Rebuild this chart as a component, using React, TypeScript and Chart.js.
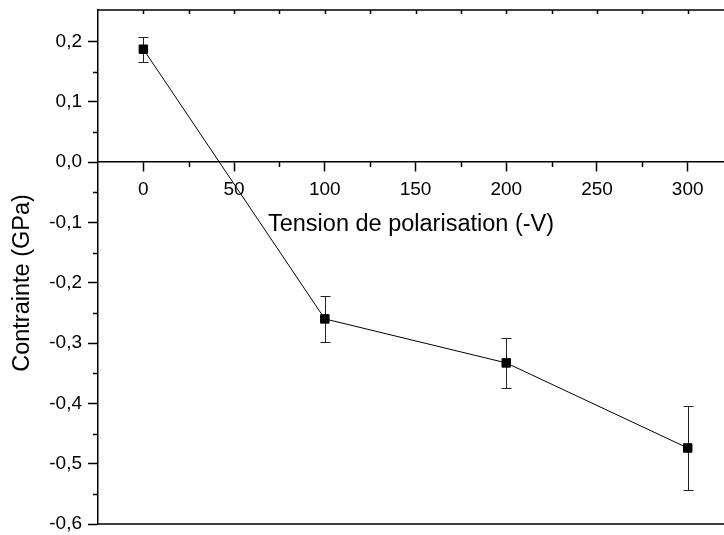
import React, { useEffect, useRef } from 'react';
import { Chart, registerables } from 'chart.js';

Chart.register(...registerables);

const voltages = [0, 100, 200, 300];
const stress = [0.187, -0.26, -0.333, -0.474];
const stressErr = [0.021, 0.038, 0.042, 0.069];

const xTicks = [0, 50, 100, 150, 200, 250, 300];
const xMinorTicks = [25, 75, 125, 175, 225, 275];
const topTicks = [0, 25, 50, 75, 100, 125, 150, 175, 200, 225, 250, 275, 300];
const yTicks = [-0.6, -0.5, -0.4, -0.3, -0.2, -0.1, 0, 0.1, 0.2];
const yMinorTicks = [-0.55, -0.45, -0.35, -0.25, -0.15, -0.05, 0.05, 0.15];

const xTitle = 'Tension de polarisation (-V)';
const yTitle = 'Contrainte (GPa)';

const FONT = "Arial, 'Liberation Sans', Helvetica, sans-serif";

const decorPlugin = {
  id: 'decor',
  beforeDatasetsDraw(chart: any) {
    const { ctx, chartArea } = chart;
    const x = chart.scales.x;
    const y = chart.scales.y;
    ctx.save();
    ctx.strokeStyle = '#000';
    ctx.lineWidth = 1.5;
    ctx.beginPath();
    ctx.moveTo(chartArea.left, chartArea.top);
    ctx.lineTo(chartArea.right, chartArea.top);
    ctx.moveTo(chartArea.left, chartArea.bottom);
    ctx.lineTo(chartArea.right, chartArea.bottom);
    ctx.stroke();

    // top ticks (inward)
    ctx.beginPath();
    topTicks.forEach((v) => {
      const px = Math.round(x.getPixelForValue(v)) + 0.5;
      ctx.moveTo(px, chartArea.top);
      ctx.lineTo(px, chartArea.top + 4);
    });
    ctx.stroke();

    // minor x ticks at y = 0
    const y0 = y.getPixelForValue(0);
    ctx.beginPath();
    xMinorTicks.forEach((v) => {
      const px = Math.round(x.getPixelForValue(v)) + 0.5;
      ctx.moveTo(px, y0);
      ctx.lineTo(px, y0 + 5);
    });
    ctx.stroke();

    // minor y ticks
    ctx.beginPath();
    yMinorTicks.forEach((v) => {
      const py = Math.round(y.getPixelForValue(v)) + 0.5;
      ctx.moveTo(chartArea.left, py);
      ctx.lineTo(chartArea.left - 5, py);
    });
    ctx.stroke();

    // error bars
    ctx.strokeStyle = '#222';
    ctx.lineWidth = 1;
    ctx.beginPath();
    voltages.forEach((v, i) => {
      const px = Math.round(x.getPixelForValue(v)) + 0.5;
      const top = Math.round(y.getPixelForValue(stress[i] + stressErr[i])) + 0.5;
      const bot = Math.round(y.getPixelForValue(stress[i] - stressErr[i])) + 0.5;
      ctx.moveTo(px, top);
      ctx.lineTo(px, bot);
      ctx.moveTo(px - 5, top);
      ctx.lineTo(px + 5, top);
      ctx.moveTo(px - 5, bot);
      ctx.lineTo(px + 5, bot);
    });
    ctx.stroke();

    // y axis title
    ctx.translate(23, 283);
    ctx.rotate(-Math.PI / 2);
    ctx.fillStyle = '#000';
    ctx.font = `23.5px ${FONT}`;
    ctx.textAlign = 'center';
    ctx.textBaseline = 'middle';
    ctx.fillText(yTitle, 0, 0);
    ctx.restore();
  },
};

export default function App() {
  const canvasRef = useRef<HTMLCanvasElement | null>(null);

  useEffect(() => {
    if (!canvasRef.current) return;
    const chart = new Chart(canvasRef.current, {
      type: 'scatter',
      data: {
        datasets: [
          {
            data: voltages.map((v, i) => ({ x: v, y: stress[i] })),
            showLine: true,
            borderColor: '#000',
            borderWidth: 1,
            backgroundColor: '#000',
            pointStyle: 'rect',
            pointRadius: 6,
            pointBorderWidth: 1,
            pointBackgroundColor: '#000',
            pointBorderColor: '#000',
            tension: 0,
            clip: false,
          } as any,
        ],
      },
      options: {
        animation: false,
        responsive: true,
        maintainAspectRatio: false,
        layout: { autoPadding: false, padding: { top: 10, bottom: 11, left: 0, right: 0 } },
        plugins: {
          legend: { display: false },
          tooltip: { enabled: false },
        },
        scales: {
          x: {
            type: 'linear',
            min: -25,
            max: 320,
            position: { y: 0 } as any,
            afterBuildTicks: (scale: any) => {
              scale.ticks = xTicks.map((v) => ({ value: v }));
            },
            afterFit: (scale: any) => {
              scale.paddingLeft = 0;
              scale.paddingRight = 0;
              scale.paddingTop = 0;
              scale.paddingBottom = 0;
            },
            grid: {
              drawOnChartArea: false,
              drawTicks: true,
              tickLength: 9,
              tickWidth: 1.5,
              tickColor: '#000',
              color: '#000',
            },
            border: { display: true, color: '#000', width: 1.5 },
            ticks: {
              autoSkip: false,
              maxRotation: 0,
              color: '#000',
              padding: 9.5,
              font: { family: FONT, size: 19, lineHeight: 1 },
            },
            title: {
              display: true,
              text: xTitle,
              color: '#000',
              font: { family: FONT, size: 23.5, lineHeight: 1.2 },
              padding: { top: 1, bottom: 4 },
            },
          },
          y: {
            type: 'linear',
            min: -0.6,
            max: 0.252,
            position: 'left',
            afterBuildTicks: (scale: any) => {
              scale.ticks = yTicks.map((v) => ({ value: v }));
            },
            afterFit: (scale: any) => {
              scale.width = 98;
              scale.paddingTop = 0;
              scale.paddingBottom = 0;
              scale.paddingLeft = 0;
              scale.paddingRight = 0;
            },
            grid: {
              drawOnChartArea: false,
              drawTicks: true,
              tickLength: 10,
              tickWidth: 1.5,
              tickColor: '#000',
              color: '#000',
            },
            border: { display: true, color: '#000', width: 1.5 },
            ticks: {
              autoSkip: false,
              color: '#000',
              padding: 6,
              font: { family: FONT, size: 19, lineHeight: 1 },
              callback: (v: any) => Number(v).toFixed(1).replace('.', ','),
            },
            title: { display: false },
          },
        },
      },
      plugins: [decorPlugin],
    });
    return () => chart.destroy();
  }, []);

  return (
    <div style={{ position: 'absolute', left: 0, top: 0, width: 724, height: 535 }}>
      <canvas ref={canvasRef} />
    </div>
  );
}
